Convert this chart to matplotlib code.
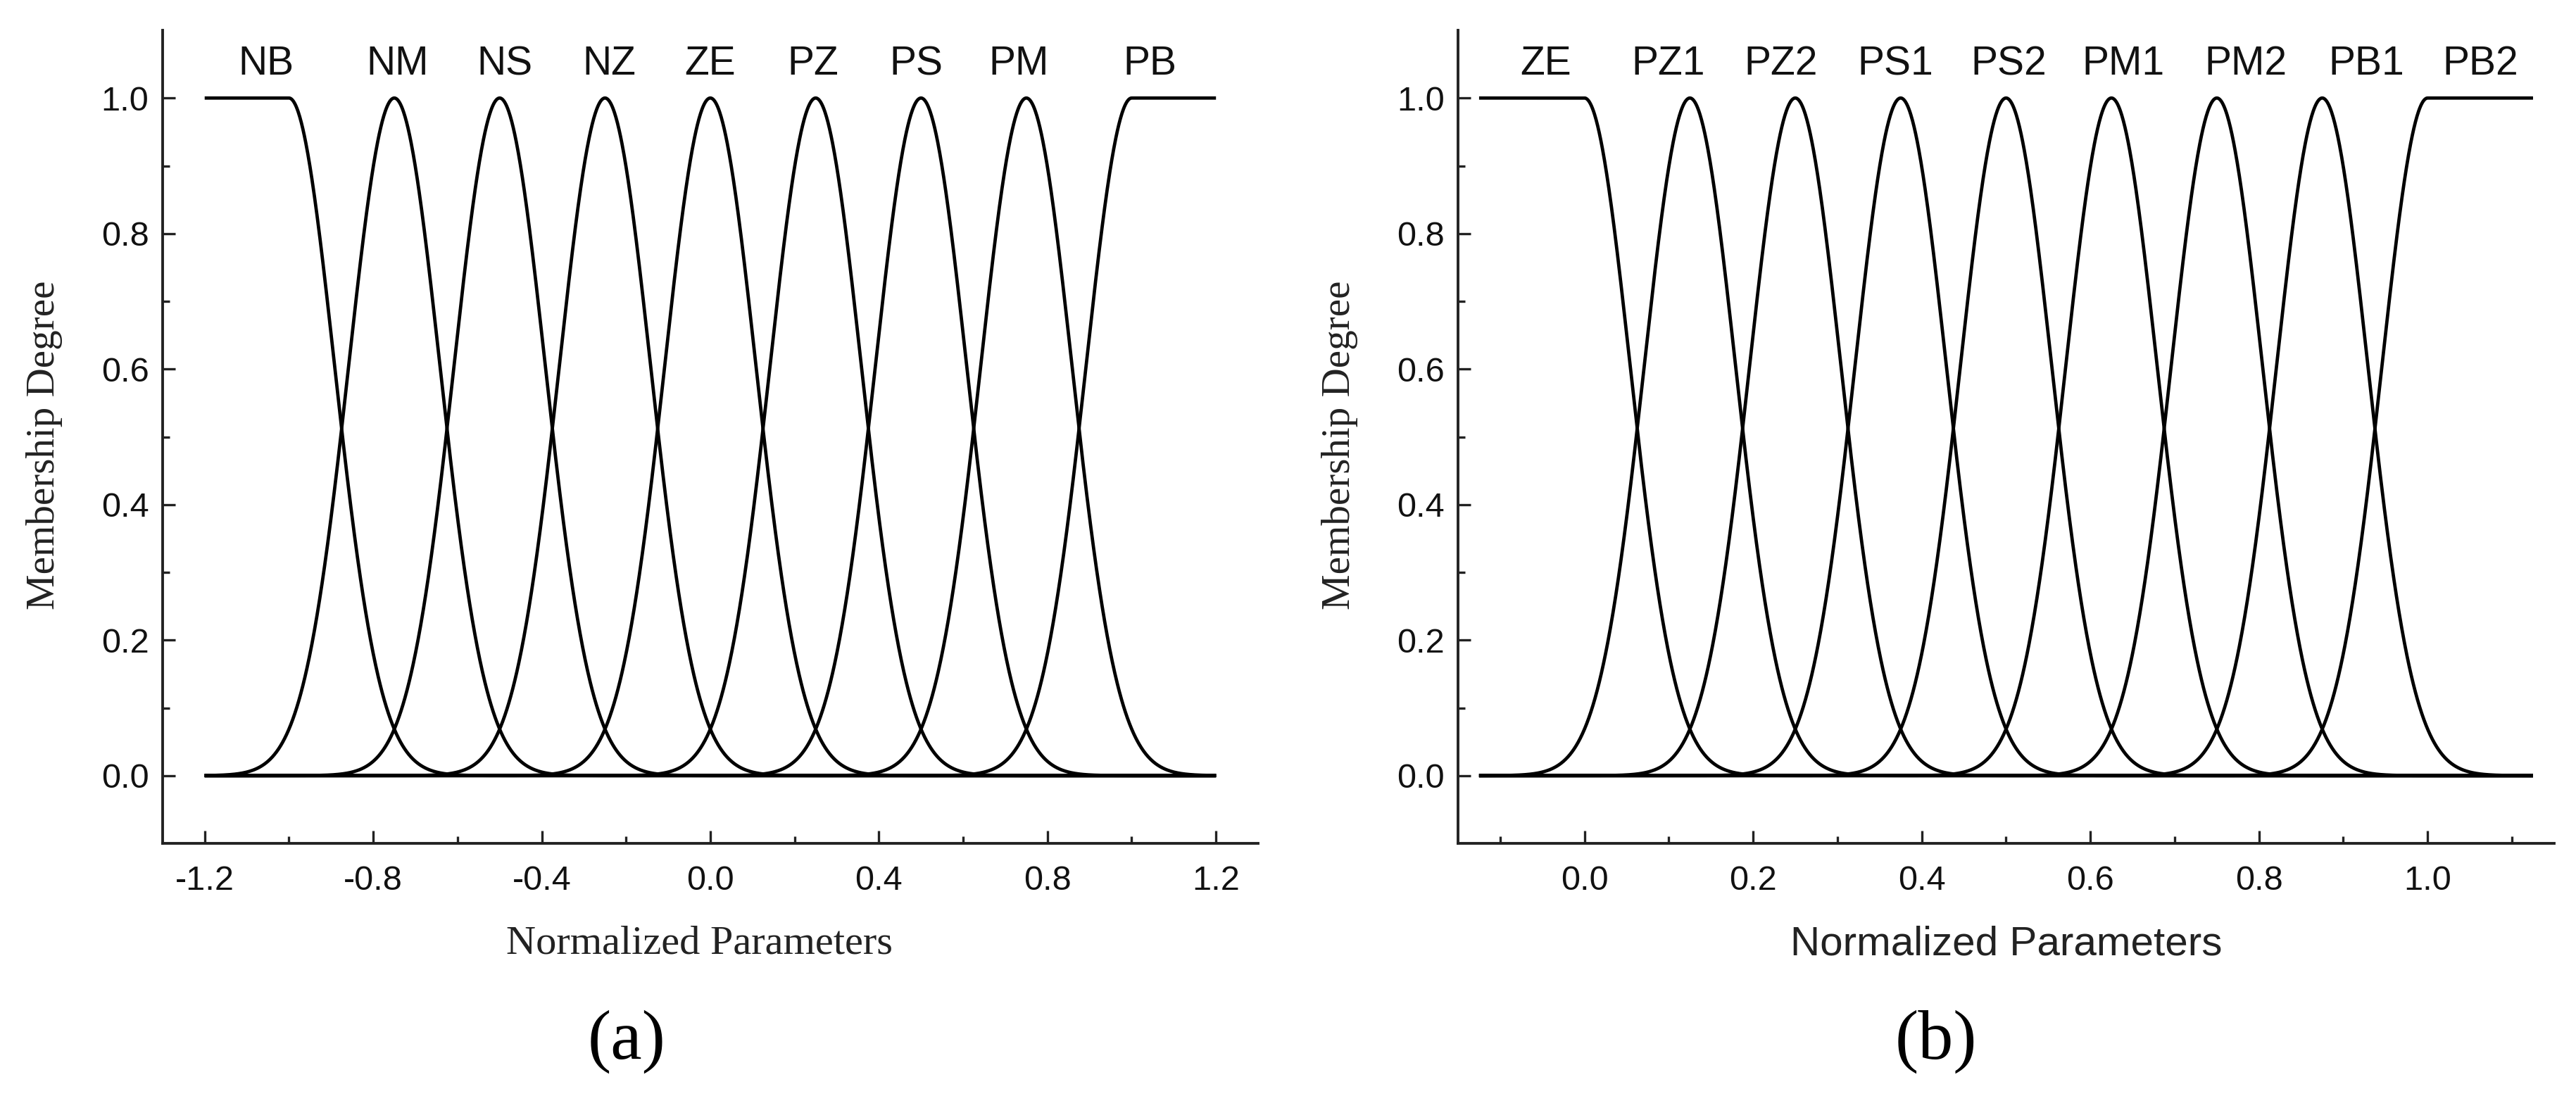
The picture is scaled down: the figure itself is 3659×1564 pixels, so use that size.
import matplotlib.pyplot as plt
import numpy as np

# panel (a): fuzzy sets on [-1.2, 1.2]
labels_a = ['NB', 'NM', 'NS', 'NZ', 'ZE', 'PZ', 'PS', 'PM', 'PB']
centers_a = [-1.0, -0.75, -0.5, -0.25, 0.0, 0.25, 0.5, 0.75, 1.0]
label_pos_a = [-1.055, -0.742, -0.488, -0.240, 0.0, 0.244, 0.488, 0.732, 1.044]
domain_a = (-1.2, 1.2)
sigma_a = 0.108

# panel (b): fuzzy sets on [-0.125, 1.125]
labels_b = ['ZE', 'PZ1', 'PZ2', 'PS1', 'PS2', 'PM1', 'PM2', 'PB1', 'PB2']
centers_b = [0.0, 0.125, 0.25, 0.375, 0.5, 0.625, 0.75, 0.875, 1.0]
label_pos_b = [-0.046, 0.099, 0.233, 0.369, 0.503, 0.639, 0.784, 0.927, 1.063]
domain_b = (-0.125, 1.125)
sigma_b = 0.054

SANS = 'Liberation Sans'
SERIF = 'Liberation Serif'


def membership(x, centers, sigma):
    """Gaussian sets, with shoulders on the first and last one."""
    curves = []
    for i, c in enumerate(centers):
        y = np.exp(-(x - c) ** 2 / (2 * sigma ** 2))
        if i == 0:
            y[x <= c] = 1.0
        elif i == len(centers) - 1:
            y[x >= c] = 1.0
        curves.append(y)
    return curves


def draw_panel(ax, labels, centers, label_pos, domain, sigma,
               xlim, major, minor, xlabel_font):
    x = np.linspace(domain[0], domain[1], 2000)
    for y in membership(x, centers, sigma):
        ax.plot(x, y, color='black', lw=3.4, solid_capstyle='butt')
    for lab, xp in zip(labels, label_pos):
        ax.text(xp, 1.05, lab, ha='center', va='center', fontsize=41,
                family=SANS, color='#111111')

    ax.set_xlim(*xlim)
    ax.set_ylim(-0.1, 1.1)
    ax.set_xticks(major)
    ax.set_xticks(minor, minor=True)
    ax.set_xticklabels(['%.1f' % v for v in major])
    ax.set_yticks(np.arange(0, 1.01, 0.2))
    ax.set_yticks(np.arange(0.1, 1.0, 0.2), minor=True)
    ax.set_yticklabels(['%.1f' % v for v in np.arange(0, 1.01, 0.2)])

    for s in ['top', 'right']:
        ax.spines[s].set_visible(False)
    for s in ['left', 'bottom']:
        ax.spines[s].set_linewidth(2.8)
        ax.spines[s].set_color('#222222')

    ax.tick_params(which='major', direction='in', length=13, width=2.4,
                   color='#222222', labelsize=35, labelcolor='#111111')
    ax.tick_params(which='minor', direction='in', length=7, width=2.4,
                   color='#222222')
    ax.tick_params(axis='x', which='major', pad=22)
    ax.tick_params(axis='y', which='major', pad=14)
    for t in ax.get_xticklabels() + ax.get_yticklabels():
        t.set_family(SANS)

    ax.set_ylabel('Membership Degree', fontsize=41, family=SERIF,
                  color='#222222', va='center')
    ax.yaxis.set_label_coords(-0.108, 0.49)
    ax.set_xlabel('Normalized Parameters', fontsize=42, family=xlabel_font,
                  color='#222222', va='center')
    ax.xaxis.set_label_coords(0.49, -0.123)


fig = plt.figure(figsize=(36.59, 15.64), dpi=100)
fig.patch.set_facecolor('white')

ax_a = fig.add_axes([0.0631, 0.2340, 0.4253, 0.7385])
draw_panel(ax_a, labels_a, centers_a, label_pos_a, domain_a, sigma_a,
           xlim=(-1.3, 1.3),
           major=[-1.2, -0.8, -0.4, 0.0, 0.4, 0.8, 1.2],
           minor=[-1.0, -0.6, -0.2, 0.2, 0.6, 1.0],
           xlabel_font=SERIF)

ax_b = fig.add_axes([0.5660, 0.2340, 0.4255, 0.7385])
draw_panel(ax_b, labels_b, centers_b, label_pos_b, domain_b, sigma_b,
           xlim=(-0.15, 1.15),
           major=[0.0, 0.2, 0.4, 0.6, 0.8, 1.0],
           minor=[-0.1, 0.1, 0.3, 0.5, 0.7, 0.9, 1.1],
           xlabel_font=SANS)
ax_b.xaxis.set_label_coords(0.5, -0.124)

fig.text(0.2432, 0.0537, '(a)', ha='center', va='center', fontsize=72,
         family=SERIF, color='black')
fig.text(0.7516, 0.0537, '(b)', ha='center', va='center', fontsize=72,
         family=SERIF, color='black')

fig.savefig('out.png', dpi=100, facecolor='white')
